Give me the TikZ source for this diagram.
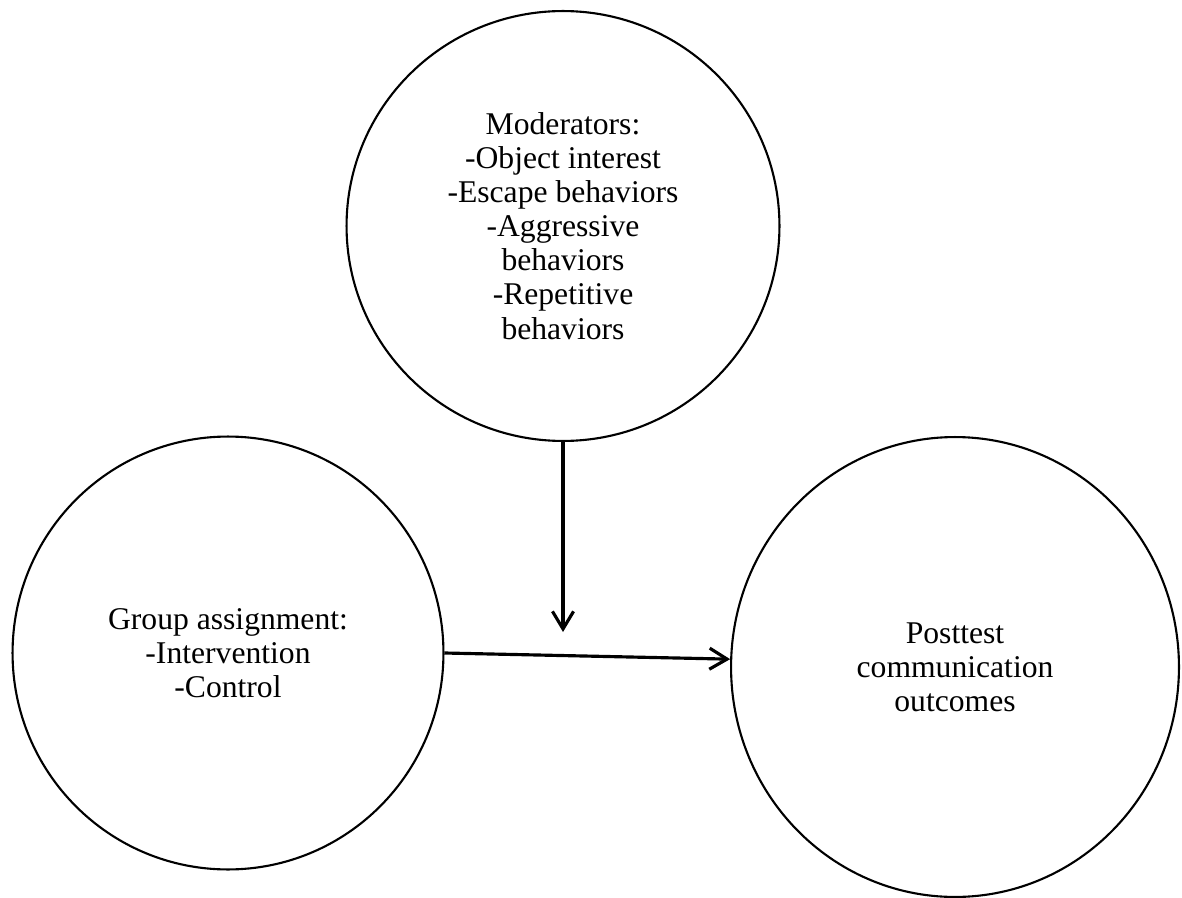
\documentclass[tikz,border=0pt]{standalone}
\usepackage{fontspec}
\setmainfont{Liberation Serif}
\usetikzlibrary{arrows.meta,shapes.geometric}
\tikzset{
  blob/.style={draw=black, line width=1.2pt, ellipse, inner sep=0pt, align=center,
    font=\fontsize{18}{19.4}\selectfont},
  link/.style={line width=1.8pt, -{Straight Barb[length=10pt,width=12pt,line width=1.8pt]}}
}
\begin{document}
\begin{tikzpicture}[x=0.02cm,y=-0.02cm]
\useasboundingbox (0,0) rectangle (1182,898);
\node[blob, minimum width=8.66cm, minimum height=8.6cm] (mod) at (563,226)
  {Moderators:\\-Object interest\\-Escape behaviors\\-Aggressive\\behaviors\\-Repetitive\\behaviors};
\node[blob, minimum width=8.62cm, minimum height=8.66cm] (grp) at (228,653)
  {Group assignment:\\-Intervention\\-Control};
\node[blob, minimum width=8.96cm, minimum height=9.2cm] (out) at (955,667)
  {Posttest\\communication\\outcomes};
\coordinate (mid) at (563,632);
\draw[link] (mod.south) -- (mid);
\draw[link] (grp.east) -- (out.178);
\end{tikzpicture}
\end{document}
